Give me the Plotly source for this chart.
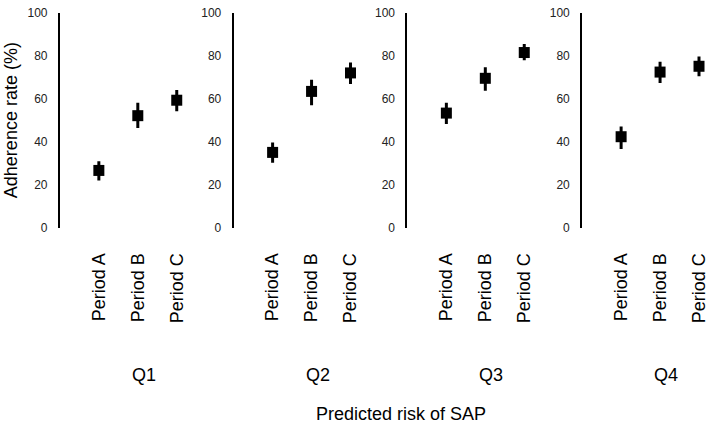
import plotly.graph_objects as go

W, H = 709, 429

groups = ["Q1", "Q2", "Q3", "Q4"]
periods = ["Period A", "Period B", "Period C"]
rate = {
    "Q1": [26.6, 52.1, 59.3],
    "Q2": [35.0, 63.4, 72.0],
    "Q3": [53.3, 69.5, 81.5],
    "Q4": [42.3, 72.4, 75.1],
}
upper = {
    "Q1": [30.9, 58.1, 64.0],
    "Q2": [39.6, 68.8, 76.9],
    "Q3": [58.1, 74.6, 85.5],
    "Q4": [47.1, 77.2, 79.6],
}
lower = {
    "Q1": [21.9, 46.4, 54.2],
    "Q2": [30.2, 57.0, 66.8],
    "Q3": [48.2, 63.7, 77.9],
    "Q4": [36.6, 67.3, 70.4],
}
y_ticks = [0, 20, 40, 60, 80, 100]
y_title = "Adherence rate (%)"
x_title = "Predicted risk of SAP"

FONT = "Arial, 'Liberation Sans', sans-serif"

fig = go.Figure()

axis_px = [60, 234, 408, 583]
step = 39.0
ytop, ybot = 6, 228

for i, g in enumerate(groups):
    n = i + 1
    x0 = axis_px[i]
    x1 = min(x0 + 4 * step, W)
    rng_hi = -1 + (x1 - x0) / step
    vals = rate[g]
    fig.add_trace(go.Scatter(
        x=periods, y=vals,
        mode="markers",
        marker=dict(symbol="square", size=11, color="black"),
        error_y=dict(type="data", symmetric=False,
                     array=[u - v for u, v in zip(upper[g], vals)],
                     arrayminus=[v - l for v, l in zip(vals, lower[g])],
                     color="black", thickness=3, width=0),
        xaxis=f"x{n}", yaxis=f"y{n}", showlegend=False,
        cliponaxis=False, hoverinfo="skip",
    ))
    xa = dict(domain=[x0 / W, x1 / W], type="category",
              categoryorder="array", categoryarray=periods,
              range=[-1, rng_hi], showline=False, showgrid=False,
              zeroline=False, ticks="", tickangle=-90,
              tickfont=dict(family=FONT, size=18, color="black"),
              ticklabelstandoff=21, anchor=f"y{n}")
    ya = dict(domain=[(H - ybot) / H, (H - ytop) / H], range=[0, 100],
              tickvals=y_ticks, showline=True, linecolor="black", linewidth=2,
              showgrid=False, zeroline=False, ticks="",
              ticklabeloverflow="allow",
              tickfont=dict(family=FONT, size=12, color="#222"),
              ticklabelstandoff=8, anchor=f"x{n}")
    fig.layout[f"xaxis{n if n > 1 else ''}"] = xa
    fig.layout[f"yaxis{n if n > 1 else ''}"] = ya
    fig.add_annotation(text=g, x=(x0 + 2 * step + 6) / W, y=(H - 380) / H,
                       xref="paper", yref="paper", showarrow=False,
                       xanchor="center", yanchor="middle",
                       font=dict(family=FONT, size=18, color="black"))

fig.add_annotation(text=y_title, x=11 / W, y=(H - 117) / H, xref="paper", yref="paper",
                   showarrow=False, textangle=-90, xanchor="center", yanchor="middle",
                   font=dict(family=FONT, size=18, color="black"))
fig.add_annotation(text=x_title, x=402 / W, y=(H - 421) / H, xref="paper", yref="paper",
                   showarrow=False, xanchor="center", yanchor="middle",
                   font=dict(family=FONT, size=18, color="black"))

fig.update_layout(width=W, height=H, margin=dict(l=0, r=0, t=0, b=0),
                  plot_bgcolor="white", paper_bgcolor="white")

fig.write_html("out.html", config={"displayModeBar": False},
               post_script="document.body.style.margin='0';document.body.style.overflow='hidden';")
